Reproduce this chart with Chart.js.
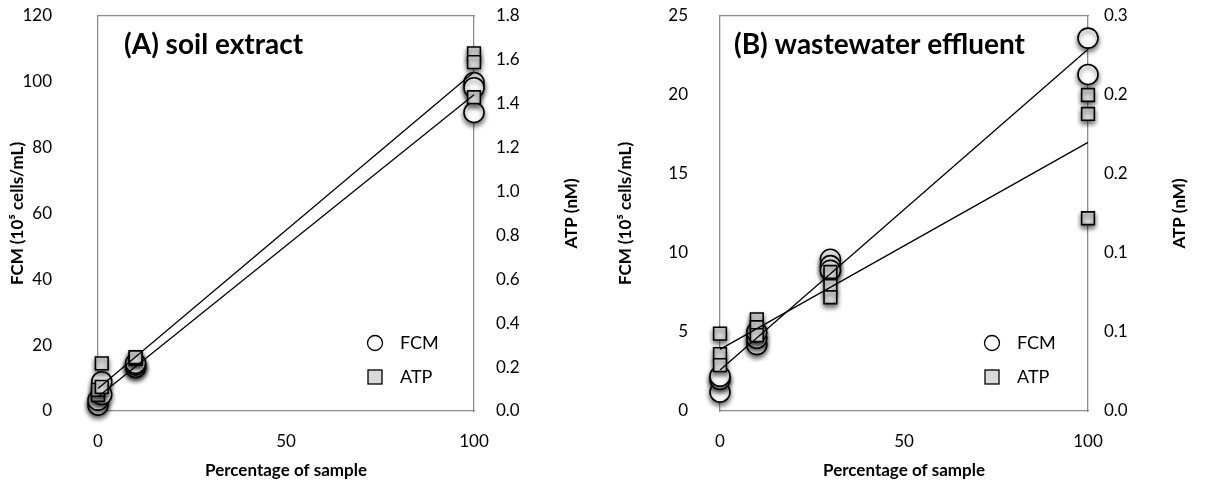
<!DOCTYPE html>
<html lang="en">
<head>
    <meta charset="UTF-8">
    <script src="https://cdn.jsdelivr.net/npm/chart.js"></script>
    <title>FCM vs ATP</title>
    <style>
        body { margin: 0; background: #fff; }
        .wrap { position: relative; width: 1230px; height: 493px; }
        .panel { position: absolute; top: 0; height: 493px; }
        #panelA { left: 0; width: 615px; }
        #panelB { left: 615px; width: 615px; }
    </style>
</head>
<body>
<div class="wrap">
    <div class="panel" id="panelA"><canvas id="chart-a"></canvas></div>
    <div class="panel" id="panelB"><canvas id="chart-b"></canvas></div>
</div>

<script>
    // (A) soil extract
    const xFcmA = [0, 0, 1, 1, 10, 10, 10, 100, 100, 100];
    const fcmA = [1.8, 3.3, 8.9, 5.0, 13.2, 14.0, 14.5, 99.8, 98.2, 90.7];
    const xAtpA = [0, 0, 1, 1, 10, 10, 100, 100, 100];
    const atpA = [0.073, 0.096, 0.217, 0.11, 0.238, 0.245, 1.63, 1.59, 1.43];
    const trendX = [0, 100];
    const trendFcmA = [4.3, 96.1];
    const trendAtpA = [0.102, 1.545];

    // (B) wastewater effluent
    const xFcmB = [0, 0, 0, 10, 10, 10, 30, 30, 30, 100, 100];
    const fcmB = [1.2, 2.0, 2.2, 4.2, 4.6, 5.0, 9.6, 9.2, 8.9, 23.6, 21.3];
    const xAtpB = [0, 0, 0, 10, 10, 10, 30, 30, 30, 100, 100, 100];
    const atpB = [0.049, 0.036, 0.029, 0.058, 0.053, 0.048, 0.088, 0.079, 0.072, 0.2, 0.188, 0.122];
    const trendFcmB = [2.6, 22.9];
    const trendAtpB = [0.039, 0.170];

    // right-axis labels as printed (rounded to one decimal)
    const atpTicksB = ['0.0', '0.1', '0.1', '0.2', '0.2', '0.3'];

    const FONT = 'Lato, "Open Sans", sans-serif';
    const AXIS_GREY = '#8c8c8c';

    function pts(xs, ys) {
        return xs.map((x, i) => ({ x: x, y: ys[i] }));
    }

    // soft drop shadow under the markers, like the original
    const shadowPlugin = {
        id: 'markerShadow',
        beforeDatasetDraw(chart, args) {
            const ds = chart.data.datasets[args.index];
            if (ds.showLine) return;
            const ctx = chart.ctx;
            ctx.save();
            ctx.shadowColor = 'rgba(0,0,0,0.6)';
            ctx.shadowBlur = 5;
            ctx.shadowOffsetY = 3;
        },
        afterDatasetDraw(chart, args) {
            const ds = chart.data.datasets[args.index];
            if (ds.showLine) return;
            chart.ctx.restore();
        }
    };

    // panel label, legend and right axis title (reads bottom to top)
    const insidePlugin = {
        id: 'inside',
        afterDraw(chart, args, opts) {
            const ctx = chart.ctx;
            const a = chart.chartArea;
            ctx.save();
            ctx.fillStyle = '#000';
            ctx.font = 'bold 28px ' + FONT;
            ctx.textBaseline = 'middle';
            ctx.fillText(opts.title, a.left + opts.titleDx, a.top + 29);

            const lx = a.right - opts.legDx;
            ctx.font = '18px ' + FONT;
            ctx.lineWidth = 1.3;
            ctx.strokeStyle = '#000';
            ctx.beginPath();
            ctx.arc(lx, a.bottom - 68, 7.5, 0, Math.PI * 2);
            ctx.fillStyle = '#fff';
            ctx.fill();
            ctx.stroke();
            ctx.fillStyle = '#d9d9d9';
            ctx.fillRect(lx - 7, a.bottom - 41, 14, 14);
            ctx.strokeRect(lx - 7, a.bottom - 41, 14, 14);
            ctx.fillStyle = '#000';
            ctx.fillText('FCM', lx + 25, a.bottom - 68);
            ctx.fillText('ATP', lx + 25, a.bottom - 34);

            ctx.translate(a.right + opts.rightTitleDx, (a.top + a.bottom) / 2);
            ctx.rotate(-Math.PI / 2);
            ctx.textAlign = 'center';
            ctx.font = 'bold 17px ' + FONT;
            ctx.fillText('ATP (nM)', 0, 0);
            ctx.restore();
        }
    };

    // fixed box for a vertical axis, without the extra label padding on top
    function fixWidth(w) {
        return s => {
            s.width = w;
            s.paddingTop = 0;
            s.paddingBottom = 0;
        };
    }

    function buildChart(id, cfg) {
        const tickFont = { family: FONT, size: 17 };
        const titleFont = { family: FONT, size: 17, weight: 'bold' };
        return new Chart(document.getElementById(id), {
            type: 'scatter',
            data: {
                datasets: [
                    {
                        label: 'FCM trend',
                        data: pts(trendX, cfg.trendFcm),
                        yAxisID: 'y',
                        showLine: true,
                        borderColor: '#000',
                        borderWidth: 1.3,
                        pointRadius: 0,
                        clip: false,
                        order: 0
                    },
                    {
                        label: 'ATP trend',
                        data: pts(trendX, cfg.trendAtp),
                        yAxisID: 'y1',
                        showLine: true,
                        borderColor: '#000',
                        borderWidth: 1.3,
                        pointRadius: 0,
                        clip: false,
                        order: 0
                    },
                    {
                        label: 'ATP',
                        data: pts(cfg.xAtp, cfg.atp),
                        yAxisID: 'y1',
                        pointStyle: 'rect',
                        pointRadius: 9,
                        backgroundColor: '#d9d9d9',
                        borderColor: '#000',
                        borderWidth: 1.6,
                        clip: false,
                        order: 1
                    },
                    {
                        label: 'FCM',
                        data: pts(cfg.xFcm, cfg.fcm),
                        yAxisID: 'y',
                        pointStyle: 'circle',
                        pointRadius: 10,
                        backgroundColor: '#fff',
                        borderColor: '#000',
                        borderWidth: 1.6,
                        clip: false,
                        order: 2
                    }
                ]
            },
            options: {
                responsive: false,
                animation: false,
                events: [],
                layout: { padding: { top: 16, right: 0, bottom: 0, left: 0 } },
                plugins: {
                    legend: { display: false },
                    tooltip: { enabled: false },
                    inside: { title: cfg.title, titleDx: cfg.titleDx, legDx: cfg.legDx, rightTitleDx: cfg.rightTitleDx }
                },
                scales: {
                    x: {
                        type: 'linear',
                        min: 0, max: 100,
                        afterFit: s => { s.height = 82; },
                        grid: { display: false, drawTicks: true, tickLength: 6, tickColor: AXIS_GREY },
                        border: { color: AXIS_GREY, width: 1.3 },
                        ticks: { stepSize: 50, color: '#000', font: tickFont, padding: 14 },
                        title: { display: true, text: 'Percentage of sample', color: '#000', font: titleFont, padding: { top: 0, bottom: 12 } }
                    },
                    xTop: {
                        type: 'linear',
                        position: 'top',
                        min: 0, max: 100,
                        afterFit: s => { s.height = 0; },
                        grid: { display: false, drawTicks: false },
                        border: { color: AXIS_GREY, width: 1.3 },
                        ticks: { display: false }
                    },
                    y: {
                        position: 'left',
                        min: 0, max: cfg.fcmMax,
                        afterFit: fixWidth(cfg.leftW),
                        grid: { display: false, drawTicks: true, tickLength: 6, tickColor: AXIS_GREY },
                        border: { color: AXIS_GREY, width: 1.3 },
                        ticks: { stepSize: cfg.fcmStep, color: '#000', font: tickFont, padding: cfg.leftPad },
                        title: { display: true, text: 'FCM (10⁵ cells/mL)', color: '#000', font: titleFont, padding: { top: cfg.leftTitlePad, bottom: 0 } }
                    },
                    y1: {
                        position: 'right',
                        min: 0, max: cfg.atpMax,
                        afterFit: fixWidth(cfg.rightW),
                        grid: { display: false, drawTicks: true, tickLength: 6, tickColor: AXIS_GREY },
                        border: { color: AXIS_GREY, width: 1.3 },
                        ticks: {
                            stepSize: cfg.atpStep,
                            color: '#000',
                            font: tickFont,
                            padding: cfg.rightPad,
                            callback: cfg.atpLabel
                        }
                    }
                }
            },
            plugins: [shadowPlugin, insidePlugin]
        });
    }

    function sizeCanvas(id, w, h) {
        const c = document.getElementById(id);
        c.width = w; c.height = h;
        c.style.width = w + 'px'; c.style.height = h + 'px';
    }
    sizeCanvas('chart-a', 615, 493);
    sizeCanvas('chart-b', 615, 493);

    buildChart('chart-a', {
        title: '(A) soil extract', titleDx: 26, legDx: 99,
        xFcm: xFcmA, fcm: fcmA, xAtp: xAtpA, atp: atpA,
        trendFcm: trendFcmA, trendAtp: trendAtpA,
        fcmMax: 120, fcmStep: 20, atpMax: 1.8, atpStep: 0.2,
        atpLabel: v => v.toFixed(1),
        leftW: 98, rightW: 615 - 474, leftTitlePad: 7, leftPad: 40, rightPad: 16,
        rightTitleDx: 98
    });

    buildChart('chart-b', {
        title: '(B) wastewater effluent', titleDx: 14, legDx: 96,
        xFcm: xFcmB, fcm: fcmB, xAtp: xAtpB, atp: atpB,
        trendFcm: trendFcmB, trendAtp: trendAtpB,
        fcmMax: 25, fcmStep: 5, atpMax: 0.25, atpStep: 0.05,
        atpLabel: (v, i) => atpTicksB[i],
        leftW: 720 - 615, rightW: 615 - (1088 - 615), leftTitlePad: 0, leftPad: 26, rightPad: 10,
        rightTitleDx: 92
    });
</script>
</body>
</html>
